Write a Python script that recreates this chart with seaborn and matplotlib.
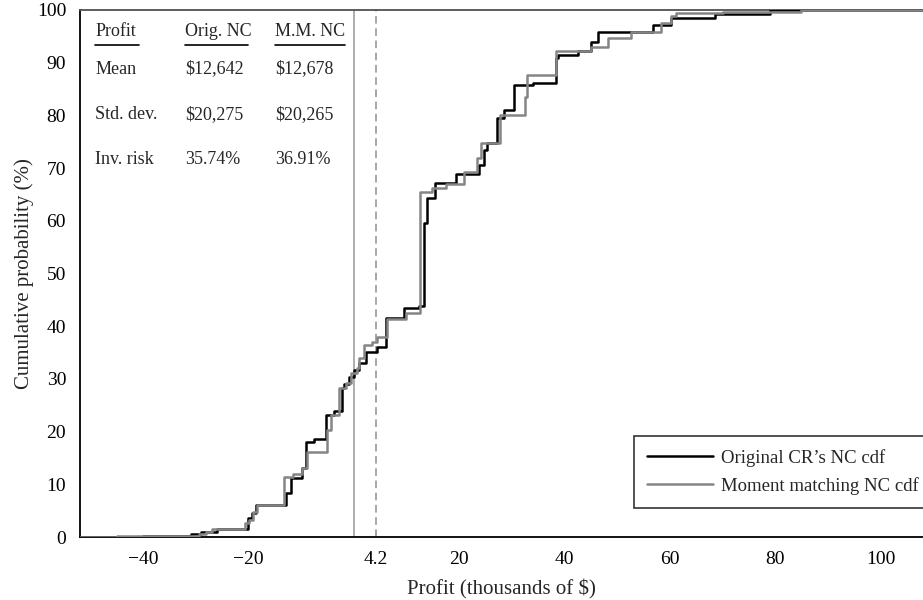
import matplotlib
matplotlib.use("Agg")
import matplotlib.pyplot as plt
import numpy as np
import pandas as pd
import seaborn as sns

# step points of the two cdfs (profit in thousands of $, cumulative %)
orig_x = [-52, -40, -31, -29, -26, -20.2, -19.3, -18.6, -12.9, -11.9, -9.8, -9.1, -7.5,
          -5.3, -3.8, -2.3, -1.9, -0.9, 0.0, 0.9, 2.3, 4.4, 6.1, 9.5, 12.3, 13.3, 13.9,
          15.3, 19.3, 23.7, 24.6, 25.2, 27.1, 28.4, 30.3, 34.0, 38.3, 38.8, 42.6, 45.0,
          46.4, 56.8, 60.2, 68.6, 79.0, 108]
orig_y = [0, 0.1, 0.5, 1.0, 1.5, 3.6, 4.5, 6.0, 8.3, 11.2, 13.0, 18.0, 18.6,
          23.1, 24.0, 28.3, 29.0, 30.4, 31.7, 33.0, 35.1, 36.0, 41.5, 43.4, 43.8, 59.6, 64.3,
          67.2, 68.9, 70.6, 73.4, 74.8, 79.5, 81.0, 85.8, 86.2, 90.9, 91.5, 92.2, 94.0,
          95.8, 97.2, 98.5, 99.3, 100, 100]

mm_x = [-52, -45, -29.4, -28, -26.9, -20.6, -19.9, -19.1, -18.4, -13.3, -11.5, -9.8, -8.9,
        -5.1, -4.4, -2.8, -1.5, -0.5, 0.6, 1.0, 1.9, 3.4, 4.4, 6.3, 9.8, 12.5, 14.8,
        17.4, 20.8, 23.3, 24.1, 27.8, 32.4, 32.8, 38.3, 44.9, 48.3, 52.6, 58.3, 60.2,
        61.2, 70.0, 84.8, 108]
mm_y = [0, 0.1, 0.5, 1.0, 1.5, 2.7, 3.2, 4.7, 6.1, 11.4, 12.0, 13.0, 16.1,
        20.3, 23.1, 28.3, 29.2, 31.1, 32.0, 34.0, 36.4, 37.0, 38.0, 41.4, 42.5, 65.5, 66.2,
        67.0, 69.3, 71.9, 74.8, 80.1, 83.5, 87.7, 92.2, 93.0, 94.7, 95.8, 97.5, 98.9,
        99.4, 99.7, 100, 100]

x_ticks = [-40, -20, 0, 4.2, 20, 40, 60, 80, 100]
x_tick_labels = ["\u221240", "\u221220", "", "4.2", "20", "40", "60", "80", "100"]

table_cols = ["Profit", "Orig. NC", "M.M. NC"]
table_rows = [["Mean", "$12,642", "$12,678"],
              ["Std. dev.", "$20,275", "$20,265"],
              ["Inv. risk", "35.74%", "36.91%"]]

sns.set_style("white")
plt.rcParams["font.family"] = ["Liberation Serif", "DejaVu Serif"]
plt.rcParams["font.size"] = 13

df = pd.concat([
    pd.DataFrame({"profit": orig_x, "cum": orig_y, "series": "Original CR\u2019s NC cdf"}),
    pd.DataFrame({"profit": mm_x, "cum": mm_y, "series": "Moment matching NC cdf"}),
])

fig = plt.figure(figsize=(9.23, 6), dpi=100)
ax = fig.add_axes([80 / 923, 63 / 600, 843 / 923, 527 / 600])

ax.axvline(0, color="#a0a0a0", lw=1.2, zorder=1)
ax.axvline(4.2, color="#909090", lw=1.1, ls=(0, (5, 3)), zorder=1)

sns.lineplot(data=df, x="profit", y="cum", hue="series", estimator=None, sort=False,
             palette=["black", "#858585"], linewidth=1.8, drawstyle="steps-post",
             ax=ax, zorder=3)

ax.set_xlim(-52, 108)
ax.set_ylim(0, 100)
ax.set_xticks(x_ticks)
ax.set_xticklabels(x_tick_labels)
ax.set_yticks(range(0, 101, 10))
ax.tick_params(direction="in", length=6, width=1, colors="black", labelsize=14)
ax.tick_params(axis="x", pad=10)
ax.tick_params(axis="y", pad=10)
ax.set_xlabel("Profit (thousands of $)", fontsize=15, labelpad=8)
ax.set_ylabel("Cumulative probability (%)", fontsize=15, labelpad=2)

for side in ["left", "bottom"]:
    ax.spines[side].set_color("black")
    ax.spines[side].set_linewidth(1.3)
ax.spines["top"].set_color("#505050")
ax.spines["top"].set_linewidth(1.3)
ax.spines["right"].set_visible(False)

# summary table in the upper left
col_x = [0.018, 0.125, 0.231]
row_y = [0.888, 0.801, 0.717]
ul_w = [0.052, 0.074, 0.083]
for cx, name, w in zip(col_x, table_cols, ul_w):
    ax.text(cx, 0.960, name, transform=ax.transAxes, va="center", ha="left", fontsize=13)
    ax.plot([cx, cx + w], [0.934, 0.934], transform=ax.transAxes, color="black", lw=1.2)
for ry, row in zip(row_y, table_rows):
    for cx, val in zip(col_x, row):
        ax.text(cx, ry, val, transform=ax.transAxes, va="center", ha="left", fontsize=13)

leg = ax.legend(loc="lower right", bbox_to_anchor=(1.011, 0.055), frameon=True, fancybox=False,
                edgecolor="black", fontsize=13.5, handlelength=3.5, borderpad=0.7,
                labelspacing=0.55, handletextpad=0.45, borderaxespad=0)
leg.get_frame().set_linewidth(1.2)

fig.savefig("out.png", dpi=100)
